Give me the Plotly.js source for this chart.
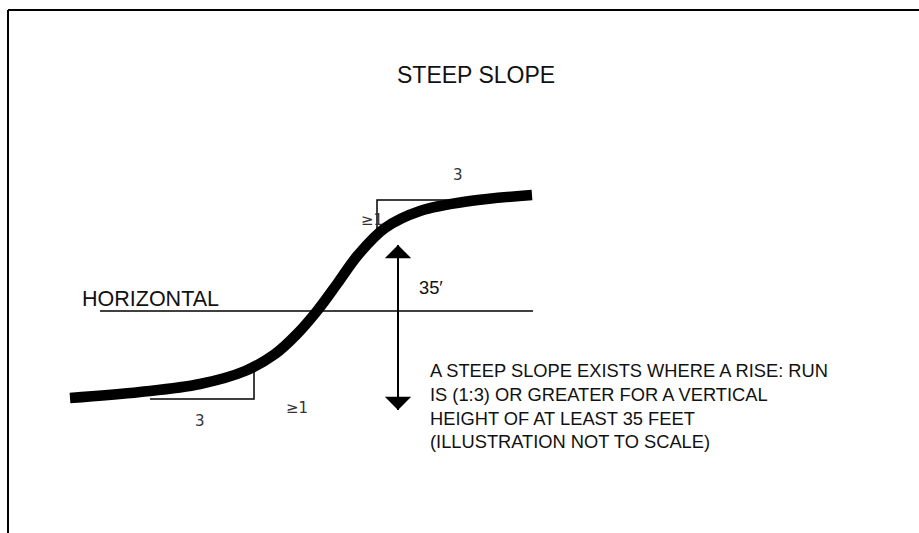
<!DOCTYPE html>
<html><head><meta charset="utf-8">
<script src="https://cdn.plot.ly/plotly-3.0.1.min.js"></script>
<style>html,body{margin:0;padding:0;background:#fff;}#chart{width:919px;height:533px;}</style>
</head><body><div id="chart"></div>
<script>
// S-shaped slope profile (screen-like units, y grows downward)
const curveX = [70, 140, 200, 245, 275, 297, 317, 337, 358, 385, 420, 470, 532];
const curveY = [398, 392, 384, 371, 354, 334, 311, 284, 255, 228, 211, 201, 195];
// horizontal reference line
const horizX = [100, 533];
const horizY = [311, 311];
// upper slope bracket (run 3 / rise >=1)
const upBracketX = [462, 377, 377];
const upBracketY = [200, 200, 230];
// lower slope bracket
const lowBracketX = [150, 254, 254];
const lowBracketY = [399, 399, 367];
// 35' vertical dimension arrow
const arrowX = [398, 398];
const arrowY = [245, 410];
// text labels
const titleText = "STEEP SLOPE";
const horizLabel = "HORIZONTAL";
const heightLabel = "35′";
const runLabel = "3";
const riseLabel = "≥1";
const noteLines = ["A STEEP SLOPE EXISTS WHERE A RISE: RUN", "IS (1:3) OR GREATER FOR A VERTICAL", "HEIGHT OF AT LEAST 35 FEET", "(ILLUSTRATION NOT TO SCALE)"];

const blk = '#000';
const traces = [
  {x: curveX, y: curveY, mode: 'lines', line: {color: blk, width: 10.5, shape: 'spline', smoothing: 1}, hoverinfo: 'skip'},
  {x: horizX, y: horizY, mode: 'lines', line: {color: blk, width: 1.5}, hoverinfo: 'skip'},
  {x: upBracketX, y: upBracketY, mode: 'lines', line: {color: blk, width: 1.5}, hoverinfo: 'skip'},
  {x: lowBracketX, y: lowBracketY, mode: 'lines', line: {color: blk, width: 1.5}, hoverinfo: 'skip'},
  {x: arrowX, y: arrowY, mode: 'lines', line: {color: blk, width: 2}, hoverinfo: 'skip'}
];

const small = {family: 'DejaVu Sans, sans-serif', size: 15, color: '#333'};
const body = {family: 'Liberation Sans, Arial, sans-serif', size: 18.3, color: '#111'};
const annotations = [
  {x: 476, y: 75, text: titleText, showarrow: false, font: {family: 'Liberation Sans, Arial, sans-serif', size: 23, color: '#111'}},
  {x: 80, y: 299, text: horizLabel, xanchor: 'left', showarrow: false, font: {family: 'Liberation Sans, Arial, sans-serif', size: 21.5, color: '#111'}},
  {x: 417, y: 287, text: heightLabel, xanchor: 'left', showarrow: false, font: body},
  {x: 428, y: 406, text: noteLines.join('<br>'), xanchor: 'left', align: 'left', showarrow: false, font: body},
  {x: 458, y: 175, text: runLabel, showarrow: false, font: small},
  {x: 372, y: 220, text: riseLabel, showarrow: false, font: small},
  {x: 200, y: 421, text: runLabel, showarrow: false, font: small},
  {x: 297, y: 408, text: riseLabel, showarrow: false, font: small},
  // arrow heads of the dimension line
  {x: arrowX[0], y: arrowY[0], ax: arrowX[0], ay: arrowY[0] + 30, axref: 'x', ayref: 'y', showarrow: true, arrowhead: 1, arrowsize: 2.2, arrowwidth: 2, arrowcolor: blk, text: ''},
  {x: arrowX[1], y: arrowY[1], ax: arrowX[1], ay: arrowY[1] - 30, axref: 'x', ayref: 'y', showarrow: true, arrowhead: 1, arrowsize: 2.2, arrowwidth: 2, arrowcolor: blk, text: ''}
];

const shapes = [
  {type: 'line', xref: 'x', yref: 'y', x0: 8, x1: 919, y0: 10, y1: 10, line: {color: blk, width: 2}},
  {type: 'line', xref: 'x', yref: 'y', x0: 8, x1: 8, y0: 10, y1: 533, line: {color: blk, width: 2}}
];

const layout = {
  width: 919, height: 533,
  margin: {l: 0, r: 0, t: 0, b: 0},
  paper_bgcolor: '#fff', plot_bgcolor: '#fff',
  showlegend: false,
  xaxis: {range: [0, 919], visible: false, fixedrange: true},
  yaxis: {range: [533, 0], visible: false, fixedrange: true},
  annotations: annotations,
  shapes: shapes
};
Plotly.newPlot('chart', traces, layout, {displayModeBar: false, staticPlot: true});
</script></body></html>
